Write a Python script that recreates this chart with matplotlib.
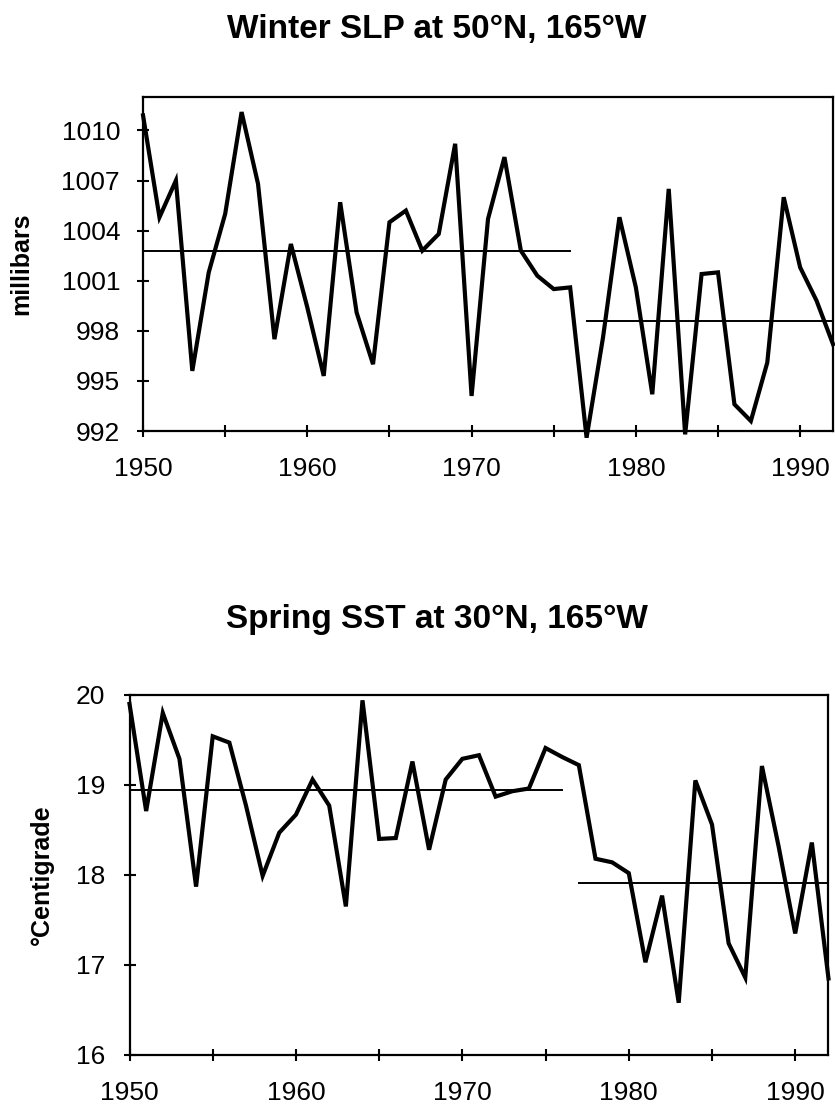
import matplotlib
matplotlib.use('Agg')
import matplotlib.pyplot as plt

plt.rcParams['font.family'] = ['Liberation Sans', 'DejaVu Sans']

years = list(range(1950, 1993))

# winter sea level pressure (mb)
slp = [1010.9, 1004.8, 1007.0, 995.6, 1001.5, 1005.0, 1011.1, 1006.8, 997.5, 1003.2,
       999.4, 995.3, 1005.7, 999.1, 996.0, 1004.5, 1005.2, 1002.8, 1003.8, 1009.2,
       994.1, 1004.7, 1008.4, 1002.8, 1001.3, 1000.5, 1000.6, 991.6, 997.6, 1004.8,
       1000.6, 994.2, 1006.5, 991.8, 1001.4, 1001.5, 993.6, 992.6, 996.1, 1006.0,
       1001.8, 999.8, 997.2]
slp_means = [(1950, 1976, 1002.8), (1977, 1992, 998.6)]

# spring sea surface temperature (C)
sst = [19.9, 18.71, 19.8, 19.29, 17.87, 19.54, 19.47, 18.77, 17.99, 18.47,
       18.67, 19.06, 18.77, 17.65, 19.94, 18.4, 18.41, 19.26, 18.28, 19.06,
       19.29, 19.33, 18.87, 18.93, 18.96, 19.41, 19.31, 19.22, 18.18, 18.14,
       18.02, 17.03, 17.77, 16.58, 19.05, 18.56, 17.24, 16.86, 19.21, 18.32,
       17.35, 18.36, 16.85]
sst_means = [(1950, 1976, 18.94), (1977, 1992, 17.91)]

fig = plt.figure(figsize=(8.35, 11.14), dpi=100)


def draw_panel(rect, values, means, yticks, ytop, ylabel, labelpad, title, title_y, ypad):
    ax = fig.add_axes(rect)
    ax.plot(years, values, color='black', lw=3.0, solid_joinstyle='miter', clip_on=False, zorder=3)
    for x0, x1, m in means:
        ax.plot([x0, x1], [m, m], color='black', lw=1.4, zorder=2)
    ax.set_xlim(1950, 1992)
    ax.set_ylim(yticks[0], ytop)
    ax.set_yticks(yticks)
    ax.set_xticks(range(1950, 1991, 5))
    ax.set_xticklabels([str(y) if y % 10 == 0 else '' for y in range(1950, 1991, 5)])
    ax.tick_params(direction='inout', length=9, width=1.5, labelsize=19)
    ax.tick_params(axis='y', pad=ypad)
    ax.tick_params(axis='x', pad=14)
    for s in ax.spines.values():
        s.set_linewidth(1.6)
    ax.set_ylabel(ylabel, fontsize=18, fontweight='bold', labelpad=labelpad)
    fig.text(437 / 835, title_y, title, fontsize=24, fontweight='bold', ha='center', va='baseline')
    return ax


draw_panel([0.1713, 0.6131, 0.8263, 0.2998], slp, slp_means,
           [992, 995, 998, 1001, 1004, 1007, 1010], 1012, 'millibars', 20,
           'Winter SLP at 50°N, 165°W', 1 - 38 / 1114, 12)
draw_panel([0.1551, 0.0530, 0.8371, 0.3232], sst, sst_means,
           [16, 17, 18, 19, 20], 20, '°Centigrade', 16,
           'Spring SST at 30°N, 165°W', 1 - 628 / 1114, 13)

fig.savefig('out.png', dpi=100)
